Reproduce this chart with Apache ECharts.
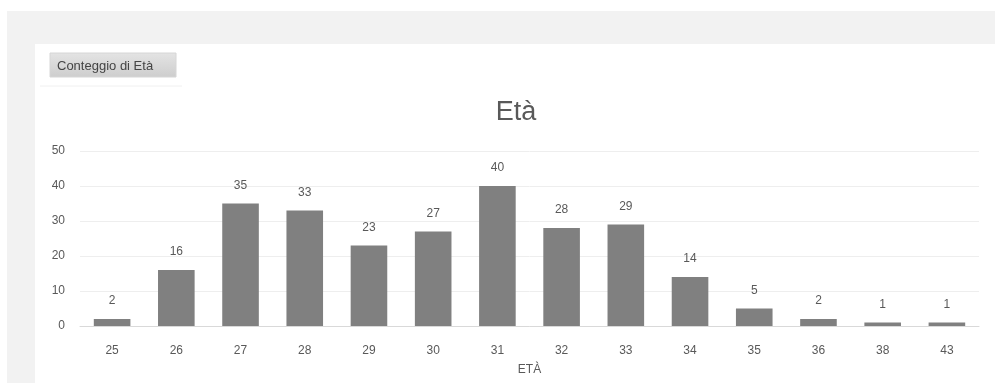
<!DOCTYPE html>
<html>
<head>
<meta charset="utf-8">
<script src="https://cdn.jsdelivr.net/npm/echarts@6/dist/echarts.min.js"></script>
<style>
  html, body { margin: 0; padding: 0; background: #ffffff; }
  #chart { width: 995px; height: 383px; }
</style>
</head>
<body>
<div id="chart"></div>
<script>
// Age distribution (count per age)
const ages = ['25', '26', '27', '28', '29', '30', '31', '32', '33', '34', '35', '36', '38', '43'];
const counts = [2, 16, 35, 33, 23, 27, 40, 28, 29, 14, 5, 2, 1, 1];
const yTicks = [0, 10, 20, 30, 40, 50];

const chart = echarts.init(document.getElementById('chart'), null, { renderer: 'canvas' });

const FONT = 'Liberation Sans, Arial, sans-serif';

chart.setOption({
  animation: false,
  backgroundColor: '#ffffff',
  textStyle: { fontFamily: FONT },
  graphic: [
    // page frame: grey band and strip around the white panel
    { type: 'rect', z: -10, shape: { x: 7, y: 11, width: 988, height: 372 }, style: { fill: '#f2f2f2' } },
    { type: 'rect', z: -9, shape: { x: 35, y: 44, width: 960, height: 339 }, style: { fill: '#ffffff' } },
    // "Conteggio di Età" field button
    {
      type: 'rect', z: -8,
      shape: { x: 50, y: 53, width: 126, height: 24 },
      style: {
        fill: new echarts.graphic.LinearGradient(0, 0, 0, 1, [
          { offset: 0, color: '#e4e4e4' },
          { offset: 1, color: '#cdcdcd' }
        ]),
        stroke: '#d6d6d6', lineWidth: 1
      }
    },
    { type: 'line', z: -8, shape: { x1: 40, y1: 86, x2: 182, y2: 86 }, style: { stroke: '#f0f0f0', lineWidth: 1 } },
    {
      type: 'text', z: 5, x: 57, y: 66,
      style: { text: 'Conteggio di Età', fill: '#444444', font: '13px ' + FONT, textVerticalAlign: 'middle' }
    },
    // chart title, centred on the white panel
    {
      type: 'text', z: 5, x: 516, y: 99,
      style: { text: 'Età', fill: '#595959', font: '27px ' + FONT, textAlign: 'center', textVerticalAlign: 'top' }
    }
  ],
  grid: { left: 80, right: 16, top: 151, bottom: 57 },
  xAxis: {
    type: 'category',
    data: ages,
    name: 'ETÀ',
    nameLocation: 'middle',
    nameGap: 38,
    nameTextStyle: { color: '#595959', fontSize: 12 },
    axisLine: { lineStyle: { color: '#d9d9d9' } },
    axisTick: { show: false },
    axisLabel: { color: '#595959', fontSize: 12, margin: 19 }
  },
  yAxis: {
    type: 'value',
    min: yTicks[0],
    max: yTicks[yTicks.length - 1],
    interval: 10,
    axisLine: { show: false },
    axisTick: { show: false },
    axisLabel: { color: '#595959', fontSize: 12, margin: 15 },
    splitLine: { lineStyle: { color: '#eeeeee' } }
  },
  series: [{
    type: 'bar',
    data: counts,
    barWidth: '57%',
    itemStyle: { color: '#808080' },
    label: {
      show: true,
      position: 'top',
      distance: 12,
      color: '#595959',
      fontSize: 12
    }
  }]
});
</script>
</body>
</html>
